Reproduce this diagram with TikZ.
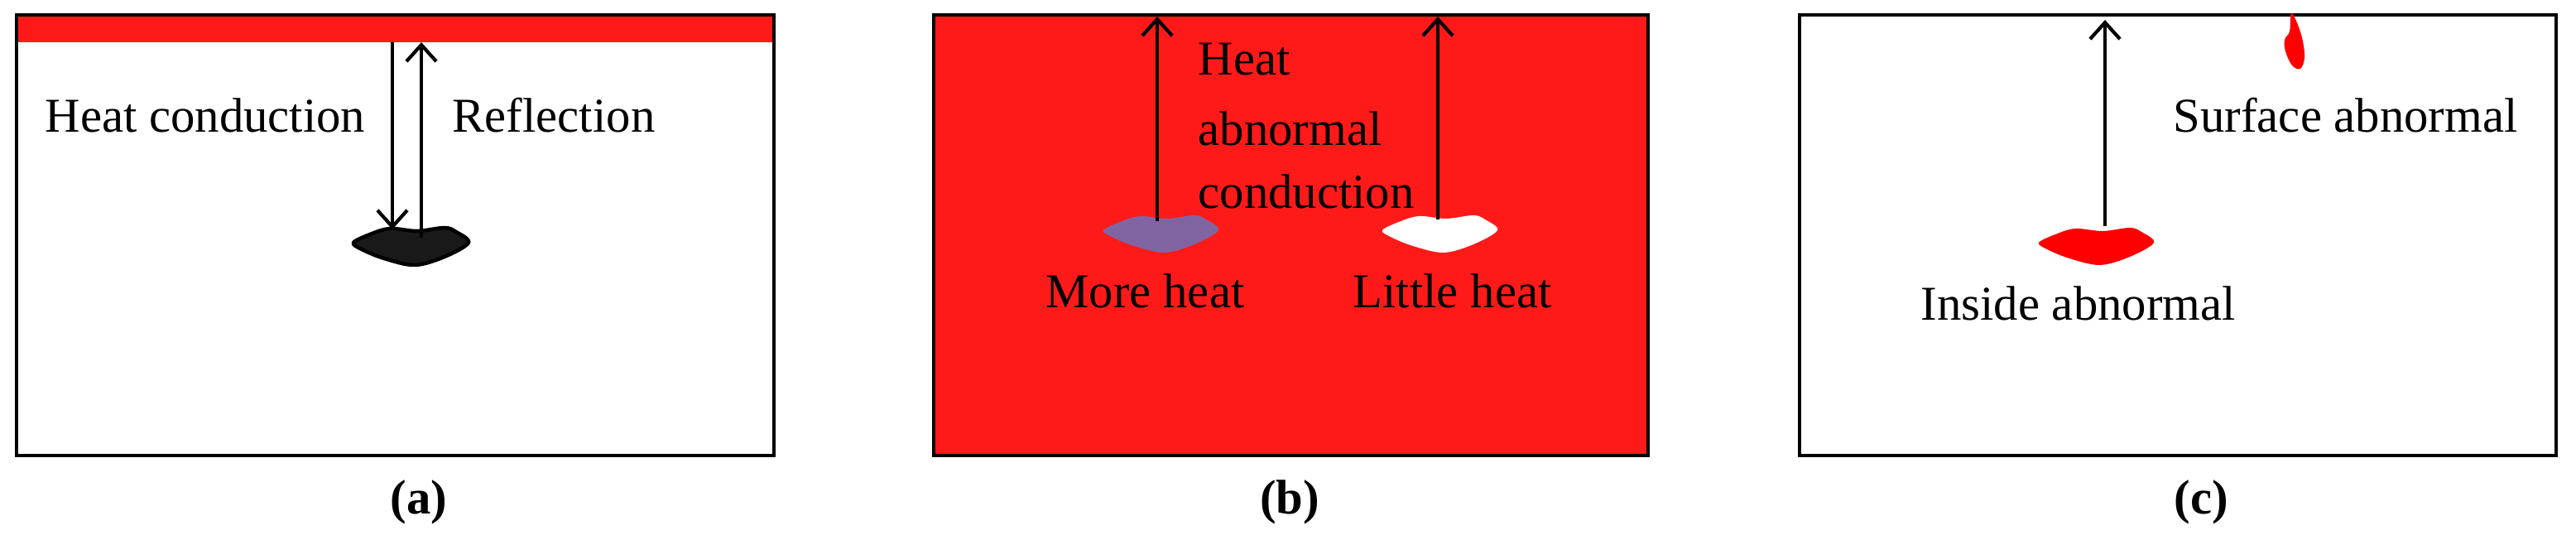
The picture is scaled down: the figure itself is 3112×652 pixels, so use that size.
\documentclass[tikz,border=0pt]{standalone}
\usepackage{fontspec}
\setmainfont{Liberation Serif}
\usetikzlibrary{arrows.meta}
\definecolor{hotred}{HTML}{FF1A1A}
\definecolor{purp}{HTML}{8064A2}
\tikzset{
  panel/.style={draw=black, line width=0.04cm},
  arr/.style={-{Straight Barb[length=0.2cm,width=0.36cm]}, line width=0.042cm, draw=black},
  lbl/.style={anchor=base west, inner sep=0pt, font=\fontsize{16.7}{20}\selectfont},
  captext/.style={anchor=base, inner sep=0pt, font=\fontsize{16.7}{20}\selectfont\bfseries},
  pics/blob/.style={code={\path[#1] plot[smooth cycle, tension=0.55] coordinates {(0,18) (20,8) (44,1) (77,4) (110,0) (124,5) (139,18) (110,35) (74,45) (37,37) (10,26)};}}
}
\begin{document}
\begin{tikzpicture}[x=0.01cm, y=-0.01cm]
\useasboundingbox (0,0) rectangle (3112,652);
\fill[white] (0,0) rectangle (3112,652);

% ---------- panel (a)
\fill[white] (20,18) rectangle (935,550);
\fill[hotred] (20,18) rectangle (935,51);
\draw[panel] (20,18) rectangle (935,550);
\pic at (427,275) {blob={fill=black!90, draw=black, line width=0.045cm, line join=round}};
\coordinate (aDownS) at (474,51);
\coordinate (aDownE) at (474,277);
\coordinate (aUpS) at (509,287);
\coordinate (aUpE) at (509,51);
\draw[arr] (aDownS) -- (aDownE);
\draw[arr] (aUpS) -- (aUpE);
\node[lbl] (aHeat) at (54,160) {Heat conduction};
\node[lbl] (aRefl) at (546,160) {Reflection};
\node[captext] (capA) at (506,620) {(a)};

% ---------- panel (b)
\draw[panel, fill=hotred] (1128,18) rectangle (1991,550);
\pic at (1333,260) {blob={fill=purp}};
\pic at (1670,260) {blob={fill=white}};
\coordinate (bLS) at (1398,267);
\coordinate (bLE) at (1398,20);
\coordinate (bRS) at (1737,265);
\coordinate (bRE) at (1737,20);
\draw[arr] (bLS) -- (bLE);
\draw[arr] (bRS) -- (bRE);
\node[lbl] (bT1) at (1447,91) {Heat};
\node[lbl] (bT2) at (1447,176) {abnormal};
\node[lbl] (bT3) at (1447,252) {conduction};
\node[lbl] (bMore) at (1263,372) {More heat};
\node[lbl] (bLittle) at (1634,372) {Little heat};
\node[captext] (capB) at (1558,620) {(b)};

% ---------- panel (c)
\draw[panel, fill=white] (2174,18) rectangle (3088,550);
\pic at (2463,275) {blob={fill=red}};
\fill[red] plot[smooth cycle, tension=0.6] coordinates {(2768,16) (2776,30) (2782,50) (2784,70) (2779,83) (2769,79) (2761,62) (2760,48) (2766,38)};
\coordinate (cS) at (2543,273);
\coordinate (cE) at (2543,24);
\draw[arr] (cS) -- (cE);
\node[lbl] (cSurf) at (2625,160) {Surface abnormal};
\node[lbl] (cIns) at (2320,387) {Inside abnormal};
\node[captext] (capC) at (2659,620) {(c)};
\end{tikzpicture}
\end{document}
